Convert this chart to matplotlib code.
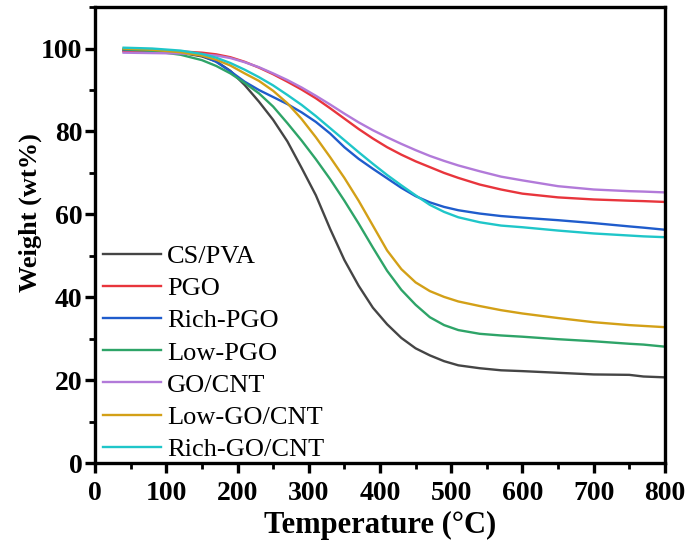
import matplotlib.pyplot as plt
from matplotlib.ticker import MultipleLocator

# ---------- data ----------
temp = [40, 80, 120, 150, 170, 190, 210, 230, 250, 270, 290, 310, 330, 350,
        370, 390, 410, 430, 450, 470, 490, 510, 540, 570, 600, 650, 700, 750,
        770, 800]

cs_pva = [99.5, 99.3, 99.0, 98.1, 96.9, 94.6, 91.2, 87.2, 82.8, 77.6, 71.2,
          64.6, 56.5, 49.0, 42.8, 37.5, 33.5, 30.2, 27.7, 26.0, 24.6, 23.6,
          22.9, 22.4, 22.2, 21.8, 21.4, 21.3, 20.9, 20.7]
pgo = [99.3, 99.3, 99.3, 99.0, 98.6, 97.9, 96.8, 95.4, 93.8, 92.0, 90.1,
       88.0, 85.6, 83.1, 80.6, 78.3, 76.2, 74.4, 72.8, 71.4, 70.0, 68.8,
       67.2, 66.0, 65.0, 64.1, 63.6, 63.3, 63.2, 63.0]
rich_pgo = [99.8, 99.7, 99.3, 98.3, 96.8, 94.5, 92.0, 90.0, 88.3, 86.6, 84.6,
            82.3, 79.5, 76.2, 73.4, 71.0, 68.7, 66.4, 64.4, 62.9, 61.8, 61.0,
            60.2, 59.6, 59.2, 58.6, 57.9, 57.1, 56.8, 56.3]
low_pgo = [99.8, 99.4, 98.5, 97.2, 95.8, 94.0, 91.7, 89.2, 86.0, 82.0, 77.8,
           73.3, 68.5, 63.3, 57.8, 52.0, 46.4, 41.8, 38.2, 35.2, 33.3, 32.1,
           31.2, 30.8, 30.5, 29.9, 29.4, 28.8, 28.6, 28.1]
go_cnt = [99.0, 98.9, 98.8, 98.6, 98.3, 97.7, 96.7, 95.5, 94.0, 92.4, 90.6,
          88.6, 86.5, 84.3, 82.2, 80.3, 78.6, 77.0, 75.5, 74.1, 72.9, 71.8,
          70.4, 69.1, 68.2, 66.8, 66.0, 65.6, 65.5, 65.3]
low_go_cnt = [100.0, 99.7, 99.1, 98.3, 97.3, 95.9, 94.0, 92.2, 89.8, 86.8,
              83.0, 78.6, 73.8, 68.8, 63.3, 57.3, 51.3, 46.8, 43.6, 41.5, 40.1,
              39.0, 37.9, 36.9, 36.1, 35.0, 34.0, 33.3, 33.1, 32.8]
rich_go_cnt = [100.2, 100.0, 99.5, 98.7, 97.8, 96.5, 94.9, 93.1, 91.1, 88.8,
               86.4, 83.7, 80.8, 77.9, 75.0, 72.2, 69.5, 67.0, 64.6, 62.3,
               60.6, 59.3, 58.1, 57.3, 56.9, 56.1, 55.4, 54.9, 54.7, 54.5]

labels = ["CS/PVA", "PGO", "Rich-PGO", "Low-PGO", "GO/CNT", "Low-GO/CNT",
          "Rich-GO/CNT"]
series = [cs_pva, pgo, rich_pgo, low_pgo, go_cnt, low_go_cnt, rich_go_cnt]
colors = ["#454545", "#e8353c", "#1f5ccc", "#2ea468", "#b27ad9", "#d3a017",
          "#1fc6c9"]

plt.rcParams['font.family'] = ['Liberation Serif', 'DejaVu Serif']

fig = plt.figure(figsize=(6.89, 5.43), dpi=100)
ax = fig.add_axes([0.138, 0.147, 0.827, 0.840])

for vals, lab, col in zip(series, labels, colors):
    ax.plot(temp, vals, color=col, lw=1.7, label=lab)

ax.set_xlim(0, 800)
ax.set_ylim(0, 110)
ax.xaxis.set_major_locator(MultipleLocator(100))
ax.xaxis.set_minor_locator(MultipleLocator(50))
ax.set_yticks([0, 20, 40, 60, 80, 100])
ax.yaxis.set_minor_locator(MultipleLocator(10))

for s in ax.spines.values():
    s.set_linewidth(2.4)
ax.tick_params(which='major', direction='out', length=7, width=2.4,
               labelsize=20, pad=2)
ax.tick_params(axis='x', which='major', pad=6)
ax.tick_params(which='minor', direction='out', length=4, width=2.0)
for t in ax.get_xticklabels() + ax.get_yticklabels():
    t.set_fontweight('bold')

ax.set_xlabel("Temperature (\u00b0C)", fontsize=22, fontweight='bold')
ax.xaxis.set_label_coords(0.5, -0.104)
ax.xaxis.label.set_va('top')
ax.set_ylabel("Weight (wt%)", fontsize=19, fontweight='bold')
ax.yaxis.set_label_coords(-0.114, 0.55)
ax.yaxis.label.set_va('center')

ax.legend(loc='upper left', bbox_to_anchor=(0.004, 0.491), frameon=False,
          fontsize=19, handlelength=2.2, handletextpad=0.25,
          labelspacing=0.33, borderaxespad=0.2, borderpad=0.0)

plt.savefig("out.png", dpi=100)
